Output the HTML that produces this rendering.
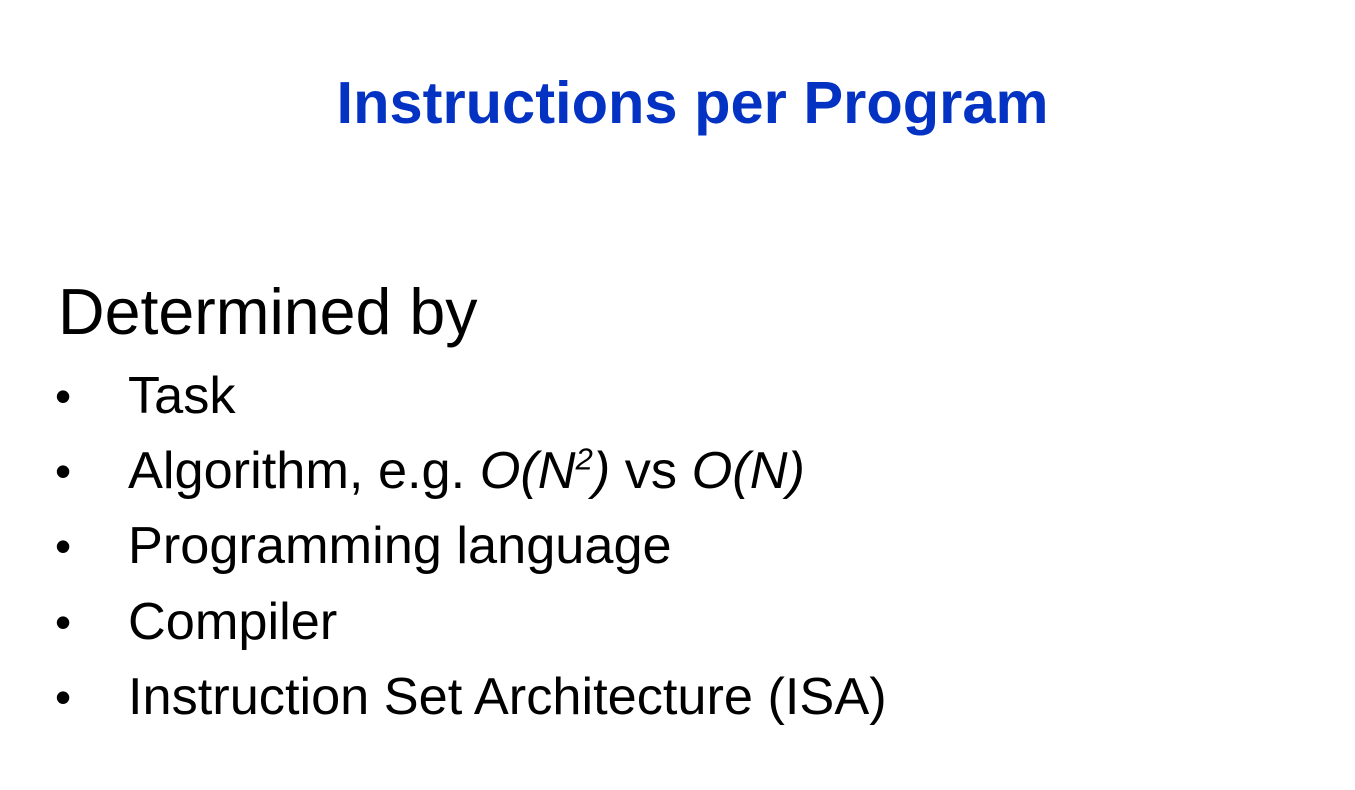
<!DOCTYPE html>
<html><head><style>
body{margin:0;width:1355px;height:790px;background:#fff;overflow:hidden;font-family:"Liberation Sans",Arial,sans-serif;position:relative}
.t{position:absolute;left:0;width:1385px;text-align:center;top:70px;font-size:59.6px;font-weight:bold;color:#0433c4;line-height:66px}
.h{position:absolute;left:58px;top:279px;font-size:64.5px;line-height:66px;color:#000}
.b{position:absolute;left:128px;font-size:52.3px;line-height:52px;color:#000;white-space:nowrap}
.d{position:absolute;left:55px;font-size:46px;line-height:52px}
</style></head><body>
<div class="t">Instructions per Program</div>
<div class="h">Determined by</div>
<div class="d" style="top:370px">•</div><div class="b" style="top:370px">Task</div>
<div class="d" style="top:445px">•</div><div class="b" style="top:445px">Algorithm, e.g. <i>O(N<sup style="font-size:31px;line-height:0">2</sup>)</i> vs <i>O(N)</i></div>
<div class="d" style="top:520px">•</div><div class="b" style="top:520px">Programming language</div>
<div class="d" style="top:596px">•</div><div class="b" style="top:596px">Compiler</div>
<div class="d" style="top:671px">•</div><div class="b" style="top:671px">Instruction Set Architecture (ISA)</div>
</body></html>
